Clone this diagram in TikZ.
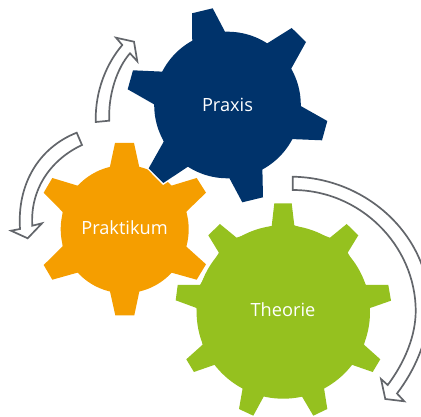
\documentclass[tikz,border=0pt]{standalone}
\usepackage{fontspec}
\setmainfont{Open Sans}
\definecolor{gblue}{HTML}{00336B}
\definecolor{gorange}{HTML}{F59E00}
\definecolor{ggreen}{HTML}{95C11F}
\definecolor{agray}{HTML}{63666B}
\tikzset{
  blueGear/.style={fill=gblue},
  orangeGear/.style={fill=gorange},
  greenGear/.style={fill=ggreen},
  halo/.style={draw=white,line width=3pt,line join=miter},
  gearlabel/.style={text=white,font=\fontsize{18.2}{22}\selectfont,inner sep=0pt},
  turnarrow/.style={draw=agray,fill=white,line width=1.7pt,line join=miter}
}
\newcommand{\bluepoly}{(192,13.3) -- (212.7,8.3) -- (226.7,35) -- (265.7,44.3) -- (291.7,28) -- (306,42) -- (291,69) -- (300.7,106) -- (327.3,121) -- (322,140.3) -- (290.3,139) -- (262.3,165.7) -- (263,197.3) -- (242.3,202.3) -- (227.7,175) -- (189,166) -- (163.3,183) -- (148.7,168.3) -- (163.7,141.7) -- (154.7,104.7) -- (127.7,89.3) -- (133,70.3) -- (163.7,71.7) -- (192.3,44.3) -- cycle}
\newcommand{\greenpoly}{(274.3,203.3) -- (291.7,203.3) -- (294.3,225.3) -- (330,237.7) -- (346.7,224) -- (358.3,235.3) -- (347.7,252.7) -- (365.7,285) -- (388.3,285) -- (391,300.7) -- (370,308) -- (364,344.7) -- (380.3,359.3) -- (372.7,372) -- (351.7,364.7) -- (324,388) -- (327.3,409) -- (313.3,415.7) -- (301.7,396) -- (264,396) -- (253.3,415.7) -- (239,409) -- (242.7,388) -- (214.9,364.7) -- (193.9,372) -- (186.3,359.3) -- (202.6,344.7) -- (196.6,308) -- (175.7,300.3) -- (177.7,285) -- (200,285) -- (218.9,252.7) -- (208.3,235.3) -- (219.9,224) -- (236.6,237.7) -- (271.7,226) -- cycle}
\begin{document}
\begin{tikzpicture}[x=1pt,y=-1pt]
\useasboundingbox (0,0) rectangle (421,417);
\clip (0,0) rectangle (421,417);
% orange
\fill[orangeGear] (115,143) -- (134,143) -- (139.7,169) -- (170.3,186) -- (196.7,178) -- (206,192.7) -- (186,212) -- (186,246.3) -- (206,264.3) -- (196.7,279.7) -- (170.3,272.3) -- (140,288.3) -- (134.3,315.3) -- (115.3,315.3) -- (109.3,288.3) -- (78.7,272.3) -- (52.3,279.7) -- (43.7,265) -- (62.7,246.3) -- (62.7,212) -- (43.7,192.7) -- (52.3,178) -- (78.7,186) -- (109.3,169.7) -- cycle;
\fill[orangeGear] (124.7,229.2) circle[radius=64];
% blue
\path[halo] \bluepoly;
\path[halo] (227.5,105) circle[radius=73.3];
\fill[blueGear] \bluepoly;
\fill[blueGear] (227.5,105) circle[radius=73.3];
% green
\path[halo] \greenpoly;
\path[halo] (283.3,312) circle[radius=86.7];
\fill[greenGear] \greenpoly;
\fill[greenGear] (283.3,312) circle[radius=86.7];
% arrows
\path[turnarrow] (95.7,122) .. controls (95,90) and (107,63) .. (122.3,45) -- (116,37.7) -- (134,41.7) -- (137.3,61.3) -- (130,53.3) .. controls (117,68) and (108,95) .. (109.3,120.7) -- cycle;
\path[turnarrow] (76.7,132.7) .. controls (38,148) and (17,185) .. (20,229) -- (11,230.7) -- (27.7,238.3) -- (42,223.3) -- (32.3,225.7) .. controls (30,190) and (50,160) .. (82,145) -- cycle;
\path[turnarrow] (292.7,176.7) .. controls (370,178) and (432,240) .. (429,310) .. controls (428,340) and (415,370) .. (397,393.5) -- (404.3,401.3) -- (385.3,399) -- (381,379) -- (387.7,385) .. controls (405,362) and (416,335) .. (415.7,310) .. controls (415,245) and (360,190) .. (292.7,190) -- cycle;
% labels
\node[gearlabel] (praxis) at (227.5,105) {Praxis};
\node[gearlabel] (praktikum) at (124.5,228) {Praktikum};
\node[gearlabel] (theorie) at (283,309.5) {Theorie};
\end{tikzpicture}
\end{document}
